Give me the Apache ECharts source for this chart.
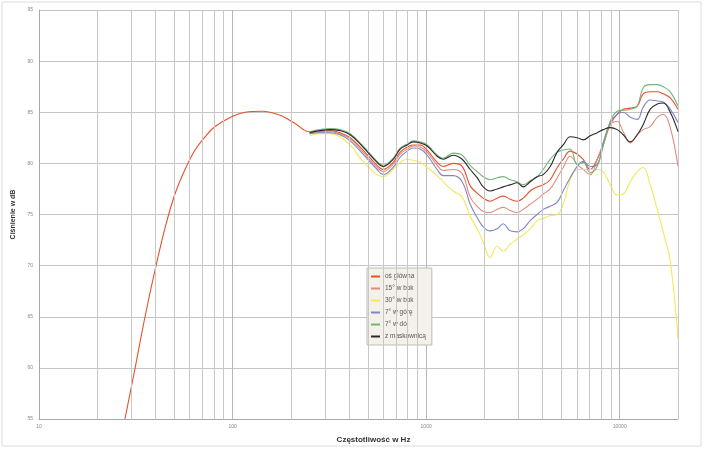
<!DOCTYPE html>
<html><head><meta charset="utf-8">
<script src="https://cdn.jsdelivr.net/npm/echarts@6/dist/echarts.min.js"></script>
<style>html,body{margin:0;padding:0;background:#fff}#c{width:705px;height:449px}</style>
</head><body><div id="c"></div>
<script>
// Frequencies (Hz) for the low-frequency part of the main-axis curve
const freqLow = [27.8, 31.3, 35.3, 39.8, 44.8, 50.4, 56.8, 64, 72.1, 81.2, 100, 116, 142, 176, 210];
const osGlownaLow = [55.0, 59.9, 65.0, 69.6, 73.7, 77.0, 79.4, 81.3, 82.6, 83.6, 84.6, 85.0, 85.1, 84.7, 83.9];

// Frequencies shared by all six measurements
const freq = [250,283,319,359,405,472,558,600,675,734,798,857,931,1012,1140,1224,1379,1535,1689,1834,1971,2142,2328,2500,2717,2953,3172,3447,3746,4024,4374,4753,5105,5548,6031,6478,7040,7650,8216,8931,9707,10426,11333,12314,13224,14375,15622,16781,18239,20000];

const osGlowna = [83.1,83.1,83.2,83.0,82.5,81.3,79.8,79.4,80.1,81.1,81.6,81.8,81.8,81.3,80.1,79.7,80.0,79.7,77.8,77.1,76.6,76.3,76.6,76.8,76.5,76.3,76.6,77.3,77.7,77.9,78.4,79.6,80.4,81.2,80.9,80.4,79.4,80.4,81.8,83.8,84.8,85.3,85.4,85.6,86.8,87.0,87.0,86.8,86.4,85.3];
const bok15 = [82.9,83.1,83.1,82.9,82.4,81.1,79.6,79.2,79.9,80.9,81.4,81.7,81.6,81.1,79.8,79.3,79.4,79.0,76.7,75.8,75.3,75.2,75.5,75.7,75.4,75.2,75.5,76.0,76.5,77.0,77.5,78.6,79.6,80.7,79.9,79.4,78.9,80.4,82.0,83.8,84.1,83.1,82.0,82.8,83.3,83.6,84.5,84.8,83.5,79.7];
const bok30 = [82.7,82.9,82.9,82.6,81.8,80.2,78.9,78.7,79.4,80.1,80.4,80.3,80.1,79.6,78.8,78.2,77.3,76.7,74.8,73.6,72.3,70.8,71.9,71.4,72.1,72.6,73.0,73.6,74.4,74.6,74.9,75.0,76.0,78.4,79.4,79.4,79.4,79.4,79.2,77.9,76.9,77.0,78.2,79.2,79.6,77.9,75.5,73.3,70.4,62.8];
const gora7 = [82.9,83.0,83.0,82.8,82.2,80.9,79.4,78.9,79.6,80.6,81.2,81.5,81.4,80.8,79.4,78.8,78.8,78.2,76.0,74.7,73.8,73.4,73.6,74.1,73.4,73.3,73.6,74.4,75.0,75.5,75.8,76.2,77.3,78.6,79.7,80.2,79.7,79.9,82.0,84.0,84.8,85.0,84.5,84.3,85.5,86.2,86.1,86.0,85.3,84.0];
const dol7 = [83.1,83.3,83.4,83.3,82.9,81.7,80.2,79.8,80.5,81.5,81.9,82.2,82.1,81.8,80.8,80.5,81.0,80.8,79.8,79.2,78.7,78.4,78.6,78.7,78.4,78.2,77.9,78.3,78.7,79.4,80.4,81.1,81.3,81.4,79.9,80.1,79.1,79.7,81.7,84.1,85.1,85.2,85.3,85.6,87.4,87.7,87.7,87.5,87.0,85.6];
const maskownica = [83.0,83.2,83.3,83.2,82.8,81.6,80.1,79.7,80.4,81.4,81.8,82.1,82.0,81.7,80.7,80.4,80.8,80.4,79.4,78.6,77.7,77.3,77.5,77.7,77.9,78.1,77.7,78.2,78.7,78.9,79.7,81.1,81.8,82.6,82.5,82.3,82.7,83.0,83.3,83.5,83.3,82.8,82.1,82.8,83.8,85.3,85.8,85.9,85.0,83.1];

const seriesNames = ['oś główna', '15° w bok', '30° w bok', '7° w górę', '7° w dół', 'z maskownicą'];
const seriesColors = ['#e8502c', '#e58a7c', '#f2e85a', '#7f86c4', '#74b47a', '#2a2a2a'];

// Minor vertical gridlines of the log axis
const minorGrid = [20,30,40,50,60,70,80,90,200,300,400,500,600,700,800,900,2000,3000,4000,5000,6000,7000,8000,9000,20000];

const zip = (xs, ys) => xs.map((x, i) => [x, ys[i]]);
const allValues = [
  zip(freqLow, osGlownaLow).concat(zip(freq, osGlowna)),
  zip(freq, bok15), zip(freq, bok30), zip(freq, gora7), zip(freq, dol7), zip(freq, maskownica)
];

const series = allValues.map((d, i) => ({
  name: seriesNames[i], type: 'line', data: d, smooth: 0.4, showSymbol: false,
  lineStyle: { width: 1.1, color: seriesColors[i] }, itemStyle: { color: seriesColors[i] },
  z: 3 + (i === 5 ? 2 : 0)
}));
series[0].markLine = {
  silent: true, symbol: 'none', label: { show: false }, animation: false,
  lineStyle: { color: '#c8c8c8', width: 1, type: 'solid' },
  data: minorGrid.map(v => ({ xAxis: v }))
};

const chart = echarts.init(document.getElementById('c'), null, { renderer: 'canvas' });
chart.setOption({
  animation: false,
  backgroundColor: '#ffffff',
  grid: { left: 39, right: 27, top: 10, bottom: 29, containLabel: false },
  graphic: [{ type: 'rect', shape: { x: 2, y: 2, width: 699, height: 444 },
    style: { fill: 'none', stroke: '#dcdcdc', lineWidth: 1 }, z: -1 }],
  legend: {
    orient: 'vertical', left: 367, top: 268, itemGap: 5, itemWidth: 9, itemHeight: 2,
    padding: [5, 6, 5, 4], backgroundColor: '#f3f1ea', borderColor: '#bdbdb5', borderWidth: 1,
    icon: 'rect',
    textStyle: { fontSize: 6.5, color: '#555', fontFamily: 'Liberation Sans' },
    data: seriesNames
  },
  xAxis: {
    type: 'log', logBase: 10, min: 10, max: 20000,
    name: 'Częstotliwość w Hz', nameLocation: 'middle', nameGap: 17,
    nameTextStyle: { fontSize: 8, fontWeight: 'bold', color: '#333', fontFamily: 'Liberation Sans', padding: [0, 0, 0, 30] },
    axisLine: { show: true, lineStyle: { color: '#a8a8a8' } },
    axisTick: { show: false },
    axisLabel: { fontSize: 5, color: '#888', margin: 5, fontFamily: 'Liberation Sans', showMaxLabel: false,
      formatter: v => String(Math.round(v)) },
    splitLine: { show: true, lineStyle: { color: '#b8b8b8', width: 1 } }
  },
  yAxis: {
    type: 'value', min: 55, max: 95, interval: 5,
    name: 'Ciśnienie w dB', nameLocation: 'middle', nameGap: 22, nameRotate: 90,
    nameTextStyle: { fontSize: 7, fontWeight: 'bold', color: '#333', fontFamily: 'Liberation Sans' },
    axisLine: { show: true, lineStyle: { color: '#a8a8a8' } },
    axisTick: { show: false },
    axisLabel: { fontSize: 5, color: '#888', margin: 6, fontFamily: 'Liberation Sans' },
    splitLine: { show: true, lineStyle: { color: '#c4c4c4', width: 1 } }
  },
  series: series
});
</script></body></html>
